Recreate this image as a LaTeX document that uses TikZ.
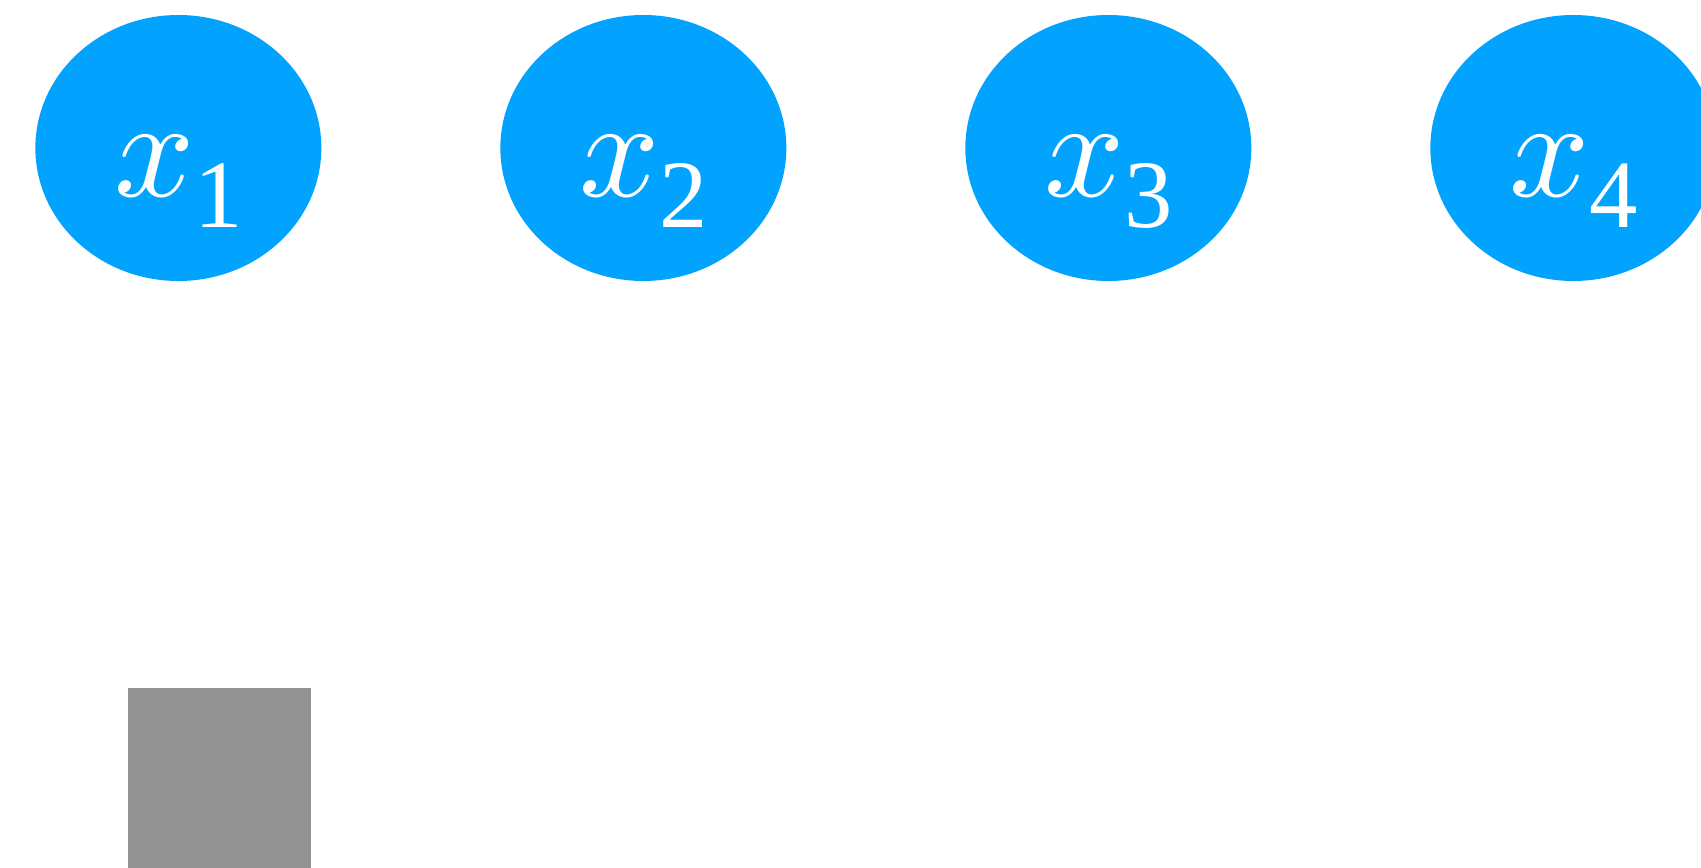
\documentclass[tikz,border=0pt]{standalone}
\usepackage{graphicx}
\usepackage{fontspec}
\setmainfont{Liberation Serif}
\usepackage{tikz}
\usetikzlibrary{matrix,shapes.geometric}
\definecolor{varblue}{RGB}{2,163,255}
\definecolor{factgray}{RGB}{146,146,146}
% variable name: big italic x with a dropped index
\newcommand{\varlabel}[1]{\scalebox{8}{$x$}\raisebox{-17.6pt}{\fontsize{55}{66}\selectfont #1}}
\tikzset{
	var/.style={ellipse, fill=varblue, text=white, inner sep=0pt, minimum width=5.72cm, minimum height=5.32cm, text height=1.96cm, text depth=0pt},
	fact/.style={rectangle, fill=factgray, inner sep=0pt, minimum size=3.66cm}
}
\begin{document}
\begin{tikzpicture}
			\clip (0,0) rectangle (34.02,-17.36);
			\useasboundingbox (0,0) rectangle (34.02,-17.36);
			\matrix (v) [matrix of nodes, inner sep=0pt, column sep=3.58cm, nodes={var}, anchor=west] at (0.70,-2.96)
			{
			\varlabel{1} & \varlabel{2} & \varlabel{3} & \varlabel{4} \\
			};
			\node[fact] (f) at (4.39,-15.59) {};
		\end{tikzpicture}
\end{document}
